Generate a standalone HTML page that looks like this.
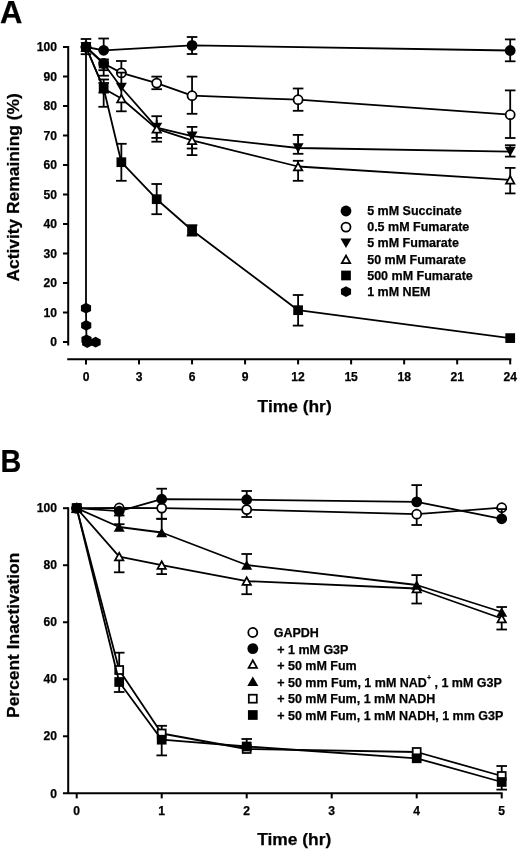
<!DOCTYPE html>
<html><head><meta charset="utf-8"><style>
html,body{margin:0;padding:0;background:#fff;}
svg{display:block;will-change:transform;}
text{font-family:"Liberation Sans", sans-serif;font-weight:bold;fill:#000;stroke:#000;stroke-width:0.25px;}
line,polyline{stroke:#000;stroke-width:2.0px;}
.d{stroke-width:1.8px;}
.f{fill:#000;}
.o{fill:#fff;stroke:#000;stroke-width:1.75px;}
</style></head><body>
<svg width="520" height="852" viewBox="0 0 520 852">
<rect width="520" height="852" fill="#fff"/>
<line x1="68.20" y1="46.00" x2="68.20" y2="345.50"/>
<line x1="63.00" y1="342.00" x2="68.20" y2="342.00"/>
<text x="57.00" y="346.20" font-size="12.1" text-anchor="end">0</text>
<line x1="63.00" y1="312.50" x2="68.20" y2="312.50"/>
<text x="57.00" y="316.70" font-size="12.1" text-anchor="end">10</text>
<line x1="63.00" y1="283.00" x2="68.20" y2="283.00"/>
<text x="57.00" y="287.20" font-size="12.1" text-anchor="end">20</text>
<line x1="63.00" y1="253.50" x2="68.20" y2="253.50"/>
<text x="57.00" y="257.70" font-size="12.1" text-anchor="end">30</text>
<line x1="63.00" y1="224.00" x2="68.20" y2="224.00"/>
<text x="57.00" y="228.20" font-size="12.1" text-anchor="end">40</text>
<line x1="63.00" y1="194.50" x2="68.20" y2="194.50"/>
<text x="57.00" y="198.70" font-size="12.1" text-anchor="end">50</text>
<line x1="63.00" y1="165.00" x2="68.20" y2="165.00"/>
<text x="57.00" y="169.20" font-size="12.1" text-anchor="end">60</text>
<line x1="63.00" y1="135.50" x2="68.20" y2="135.50"/>
<text x="57.00" y="139.70" font-size="12.1" text-anchor="end">70</text>
<line x1="63.00" y1="106.00" x2="68.20" y2="106.00"/>
<text x="57.00" y="110.20" font-size="12.1" text-anchor="end">80</text>
<line x1="63.00" y1="76.50" x2="68.20" y2="76.50"/>
<text x="57.00" y="80.70" font-size="12.1" text-anchor="end">90</text>
<line x1="63.00" y1="47.00" x2="68.20" y2="47.00"/>
<text x="57.00" y="51.20" font-size="12.1" text-anchor="end">100</text>
<line x1="67.20" y1="359.20" x2="511.30" y2="359.20"/>
<line x1="86.00" y1="359.20" x2="86.00" y2="364.40"/>
<text x="86.00" y="381.00" font-size="12.1" text-anchor="middle">0</text>
<line x1="139.03" y1="359.20" x2="139.03" y2="364.40"/>
<text x="139.03" y="381.00" font-size="12.1" text-anchor="middle">3</text>
<line x1="192.05" y1="359.20" x2="192.05" y2="364.40"/>
<text x="192.05" y="381.00" font-size="12.1" text-anchor="middle">6</text>
<line x1="245.08" y1="359.20" x2="245.08" y2="364.40"/>
<text x="245.08" y="381.00" font-size="12.1" text-anchor="middle">9</text>
<line x1="298.10" y1="359.20" x2="298.10" y2="364.40"/>
<text x="298.10" y="381.00" font-size="12.1" text-anchor="middle">12</text>
<line x1="351.12" y1="359.20" x2="351.12" y2="364.40"/>
<text x="351.12" y="381.00" font-size="12.1" text-anchor="middle">15</text>
<line x1="404.15" y1="359.20" x2="404.15" y2="364.40"/>
<text x="404.15" y="381.00" font-size="12.1" text-anchor="middle">18</text>
<line x1="457.18" y1="359.20" x2="457.18" y2="364.40"/>
<text x="457.18" y="381.00" font-size="12.1" text-anchor="middle">21</text>
<line x1="510.20" y1="359.20" x2="510.20" y2="364.40"/>
<text x="510.20" y="381.00" font-size="12.1" text-anchor="middle">24</text>
<text x="257.60" y="411.60" font-size="17.4">Time (hr)</text>
<text transform="translate(18.7,281.6) rotate(-90)" font-size="17.4">Activity Remaining (%)</text>
<text x="0.00" y="23.20" font-size="31">A</text>
<line x1="86.00" y1="39.00" x2="86.00" y2="54.20" class="d"/>
<line x1="80.70" y1="39.00" x2="91.30" y2="39.00" class="d"/>
<line x1="80.70" y1="54.20" x2="91.30" y2="54.20" class="d"/>
<line x1="103.67" y1="38.50" x2="103.67" y2="55.00" class="d"/>
<line x1="98.38" y1="38.50" x2="108.97" y2="38.50" class="d"/>
<line x1="192.05" y1="37.00" x2="192.05" y2="54.00" class="d"/>
<line x1="186.75" y1="37.00" x2="197.35" y2="37.00" class="d"/>
<line x1="186.75" y1="54.00" x2="197.35" y2="54.00" class="d"/>
<line x1="510.20" y1="39.40" x2="510.20" y2="61.30" class="d"/>
<line x1="504.90" y1="39.40" x2="515.50" y2="39.40" class="d"/>
<line x1="504.90" y1="61.30" x2="515.50" y2="61.30" class="d"/>
<polyline points="86.00,47.00 103.67,50.30 192.05,45.40 510.20,50.50" fill="none" stroke-linejoin="round" class="d"/>
<circle cx="86.00" cy="47.00" r="5.40" class="f"/>
<circle cx="103.67" cy="50.30" r="5.40" class="f"/>
<circle cx="192.05" cy="45.40" r="5.40" class="f"/>
<circle cx="510.20" cy="50.50" r="5.40" class="f"/>
<line x1="103.67" y1="60.00" x2="103.67" y2="70.20" class="d"/>
<line x1="98.38" y1="70.20" x2="108.97" y2="70.20" class="d"/>
<line x1="121.35" y1="61.00" x2="121.35" y2="72.90" class="d"/>
<line x1="116.05" y1="61.00" x2="126.65" y2="61.00" class="d"/>
<line x1="156.70" y1="76.60" x2="156.70" y2="89.20" class="d"/>
<line x1="151.40" y1="76.60" x2="162.00" y2="76.60" class="d"/>
<line x1="151.40" y1="89.20" x2="162.00" y2="89.20" class="d"/>
<line x1="192.05" y1="76.60" x2="192.05" y2="113.80" class="d"/>
<line x1="186.75" y1="76.60" x2="197.35" y2="76.60" class="d"/>
<line x1="186.75" y1="113.80" x2="197.35" y2="113.80" class="d"/>
<line x1="298.10" y1="88.50" x2="298.10" y2="110.80" class="d"/>
<line x1="292.80" y1="88.50" x2="303.40" y2="88.50" class="d"/>
<line x1="292.80" y1="110.80" x2="303.40" y2="110.80" class="d"/>
<line x1="510.20" y1="90.40" x2="510.20" y2="138.00" class="d"/>
<line x1="504.90" y1="90.40" x2="515.50" y2="90.40" class="d"/>
<line x1="504.90" y1="138.00" x2="515.50" y2="138.00" class="d"/>
<polyline points="86.00,47.00 103.67,63.50 121.35,72.90 156.70,83.10 192.05,95.70 298.10,99.70 510.20,114.70" fill="none" stroke-linejoin="round" class="d"/>
<circle cx="86.00" cy="47.00" r="4.53" class="o"/>
<circle cx="103.67" cy="63.50" r="4.53" class="o"/>
<circle cx="121.35" cy="72.90" r="4.53" class="o"/>
<circle cx="156.70" cy="83.10" r="4.53" class="o"/>
<circle cx="192.05" cy="95.70" r="4.53" class="o"/>
<circle cx="298.10" cy="99.70" r="4.53" class="o"/>
<circle cx="510.20" cy="114.70" r="4.53" class="o"/>
<line x1="103.67" y1="63.00" x2="103.67" y2="75.70" class="d"/>
<line x1="98.38" y1="75.70" x2="108.97" y2="75.70" class="d"/>
<line x1="121.35" y1="72.60" x2="121.35" y2="87.50" class="d"/>
<line x1="116.05" y1="72.60" x2="126.65" y2="72.60" class="d"/>
<line x1="156.70" y1="116.20" x2="156.70" y2="137.90" class="d"/>
<line x1="151.40" y1="116.20" x2="162.00" y2="116.20" class="d"/>
<line x1="151.40" y1="137.90" x2="162.00" y2="137.90" class="d"/>
<line x1="192.05" y1="126.90" x2="192.05" y2="148.50" class="d"/>
<line x1="186.75" y1="126.90" x2="197.35" y2="126.90" class="d"/>
<line x1="186.75" y1="148.50" x2="197.35" y2="148.50" class="d"/>
<line x1="298.10" y1="134.90" x2="298.10" y2="153.80" class="d"/>
<line x1="292.80" y1="134.90" x2="303.40" y2="134.90" class="d"/>
<line x1="292.80" y1="153.80" x2="303.40" y2="153.80" class="d"/>
<line x1="510.20" y1="145.20" x2="510.20" y2="156.60" class="d"/>
<line x1="504.90" y1="145.20" x2="515.50" y2="145.20" class="d"/>
<line x1="504.90" y1="156.60" x2="515.50" y2="156.60" class="d"/>
<polyline points="86.00,47.00 103.67,63.50 121.35,87.50 156.70,127.60 192.05,136.20 298.10,148.00 510.20,151.60" fill="none" stroke-linejoin="round" class="d"/>
<polygon points="80.49,42.25 91.51,42.25 86.00,51.75" class="f"/>
<polygon points="98.17,58.75 109.18,58.75 103.67,68.25" class="f"/>
<polygon points="115.84,82.75 126.86,82.75 121.35,92.25" class="f"/>
<polygon points="151.19,122.85 162.21,122.85 156.70,132.35" class="f"/>
<polygon points="186.54,131.45 197.56,131.45 192.05,140.95" class="f"/>
<polygon points="292.59,143.25 303.61,143.25 298.10,152.75" class="f"/>
<polygon points="504.69,146.85 515.71,146.85 510.20,156.35" class="f"/>
<line x1="103.67" y1="79.50" x2="103.67" y2="95.00" class="d"/>
<line x1="98.38" y1="79.50" x2="108.97" y2="79.50" class="d"/>
<line x1="121.35" y1="90.00" x2="121.35" y2="111.30" class="d"/>
<line x1="116.05" y1="111.30" x2="126.65" y2="111.30" class="d"/>
<line x1="156.70" y1="120.00" x2="156.70" y2="141.70" class="d"/>
<line x1="151.40" y1="141.70" x2="162.00" y2="141.70" class="d"/>
<line x1="192.05" y1="132.00" x2="192.05" y2="155.10" class="d"/>
<line x1="186.75" y1="155.10" x2="197.35" y2="155.10" class="d"/>
<line x1="298.10" y1="160.80" x2="298.10" y2="180.80" class="d"/>
<line x1="292.80" y1="160.80" x2="303.40" y2="160.80" class="d"/>
<line x1="292.80" y1="180.80" x2="303.40" y2="180.80" class="d"/>
<line x1="510.20" y1="167.90" x2="510.20" y2="193.40" class="d"/>
<line x1="504.90" y1="167.90" x2="515.50" y2="167.90" class="d"/>
<line x1="504.90" y1="193.40" x2="515.50" y2="193.40" class="d"/>
<polyline points="86.00,47.00 103.67,88.50 121.35,98.50 156.70,128.90 192.05,140.30 298.10,166.50 510.20,179.90" fill="none" stroke-linejoin="round" class="d"/>
<polygon points="81.80,50.79 90.20,50.79 86.00,43.21" class="o"/>
<polygon points="99.48,92.29 107.87,92.29 103.67,84.71" class="o"/>
<polygon points="117.15,102.29 125.55,102.29 121.35,94.71" class="o"/>
<polygon points="152.50,132.69 160.90,132.69 156.70,125.11" class="o"/>
<polygon points="187.85,144.09 196.25,144.09 192.05,136.51" class="o"/>
<polygon points="293.90,170.29 302.30,170.29 298.10,162.71" class="o"/>
<polygon points="506.00,183.69 514.40,183.69 510.20,176.11" class="o"/>
<line x1="103.67" y1="83.00" x2="103.67" y2="106.80" class="d"/>
<line x1="98.38" y1="83.00" x2="108.97" y2="83.00" class="d"/>
<line x1="98.38" y1="106.80" x2="108.97" y2="106.80" class="d"/>
<line x1="121.35" y1="143.80" x2="121.35" y2="180.80" class="d"/>
<line x1="116.05" y1="143.80" x2="126.65" y2="143.80" class="d"/>
<line x1="116.05" y1="180.80" x2="126.65" y2="180.80" class="d"/>
<line x1="156.70" y1="184.00" x2="156.70" y2="214.20" class="d"/>
<line x1="151.40" y1="184.00" x2="162.00" y2="184.00" class="d"/>
<line x1="151.40" y1="214.20" x2="162.00" y2="214.20" class="d"/>
<line x1="192.05" y1="225.20" x2="192.05" y2="235.60" class="d"/>
<line x1="186.75" y1="225.20" x2="197.35" y2="225.20" class="d"/>
<line x1="186.75" y1="235.60" x2="197.35" y2="235.60" class="d"/>
<line x1="298.10" y1="295.00" x2="298.10" y2="325.60" class="d"/>
<line x1="292.80" y1="295.00" x2="303.40" y2="295.00" class="d"/>
<line x1="292.80" y1="325.60" x2="303.40" y2="325.60" class="d"/>
<polyline points="86.00,47.00 103.67,88.50 121.35,162.20 156.70,199.20 192.05,230.30 298.10,310.20 510.20,338.10" fill="none" stroke-linejoin="round" class="d"/>
<rect x="81.14" y="42.14" width="9.72" height="9.72" class="f"/>
<rect x="98.81" y="83.64" width="9.72" height="9.72" class="f"/>
<rect x="116.49" y="157.34" width="9.72" height="9.72" class="f"/>
<rect x="151.84" y="194.34" width="9.72" height="9.72" class="f"/>
<rect x="187.19" y="225.44" width="9.72" height="9.72" class="f"/>
<rect x="293.24" y="305.34" width="9.72" height="9.72" class="f"/>
<rect x="505.34" y="333.24" width="9.72" height="9.72" class="f"/>
<rect x="98.81" y="58.64" width="9.72" height="9.72" class="f"/>
<polyline points="86.00,47.00 86.00,308.20 86.20,325.40 86.50,339.80 87.20,342.60 95.60,342.20" fill="none" stroke-linejoin="round" class="d"/>
<polygon points="86.00,302.80 91.08,305.50 91.08,310.90 86.00,313.60 80.92,310.90 80.92,305.50" class="f"/>
<polygon points="86.20,320.00 91.28,322.70 91.28,328.10 86.20,330.80 81.12,328.10 81.12,322.70" class="f"/>
<polygon points="86.50,334.40 91.58,337.10 91.58,342.50 86.50,345.20 81.42,342.50 81.42,337.10" class="f"/>
<polygon points="87.20,337.20 92.28,339.90 92.28,345.30 87.20,348.00 82.12,345.30 82.12,339.90" class="f"/>
<polygon points="95.60,336.80 100.68,339.50 100.68,344.90 95.60,347.60 90.52,344.90 90.52,339.50" class="f"/>
<circle cx="346.00" cy="211.00" r="5.40" class="f"/>
<text x="367.20" y="215.20" font-size="12.5">5 mM Succinate</text>
<circle cx="346.00" cy="227.12" r="4.53" class="o"/>
<text x="367.20" y="231.32" font-size="12.5">0.5 mM Fumarate</text>
<polygon points="340.49,238.49 351.51,238.49 346.00,247.99" class="f"/>
<text x="367.20" y="247.44" font-size="12.5">5 mM Fumarate</text>
<polygon points="341.80,263.15 350.20,263.15 346.00,255.57" class="o"/>
<text x="367.20" y="263.56" font-size="12.5">50 mM Fumarate</text>
<rect x="341.14" y="270.62" width="9.72" height="9.72" class="f"/>
<text x="367.20" y="279.68" font-size="12.5">500 mM Fumarate</text>
<polygon points="346.00,286.20 351.08,288.90 351.08,294.30 346.00,297.00 340.92,294.30 340.92,288.90" class="f"/>
<text x="367.20" y="295.80" font-size="12.5">1 mM NEM</text>
<line x1="68.20" y1="507.30" x2="68.20" y2="793.30"/>
<line x1="63.00" y1="736.28" x2="68.20" y2="736.28"/>
<line x1="63.00" y1="679.26" x2="68.20" y2="679.26"/>
<line x1="63.00" y1="622.24" x2="68.20" y2="622.24"/>
<line x1="63.00" y1="565.22" x2="68.20" y2="565.22"/>
<line x1="63.00" y1="508.20" x2="68.20" y2="508.20"/>
<text x="57.00" y="797.50" font-size="12.1" text-anchor="end">0</text>
<text x="57.00" y="740.48" font-size="12.1" text-anchor="end">20</text>
<text x="57.00" y="683.46" font-size="12.1" text-anchor="end">40</text>
<text x="57.00" y="626.44" font-size="12.1" text-anchor="end">60</text>
<text x="57.00" y="569.42" font-size="12.1" text-anchor="end">80</text>
<text x="57.00" y="512.40" font-size="12.1" text-anchor="end">100</text>
<line x1="63.00" y1="793.30" x2="502.60" y2="793.30"/>
<line x1="76.70" y1="793.30" x2="76.70" y2="798.40"/>
<text x="76.70" y="815.20" font-size="12.1" text-anchor="middle">0</text>
<line x1="161.70" y1="793.30" x2="161.70" y2="798.40"/>
<text x="161.70" y="815.20" font-size="12.1" text-anchor="middle">1</text>
<line x1="246.70" y1="793.30" x2="246.70" y2="798.40"/>
<text x="246.70" y="815.20" font-size="12.1" text-anchor="middle">2</text>
<line x1="331.70" y1="793.30" x2="331.70" y2="798.40"/>
<text x="331.70" y="815.20" font-size="12.1" text-anchor="middle">3</text>
<line x1="416.70" y1="793.30" x2="416.70" y2="798.40"/>
<text x="416.70" y="815.20" font-size="12.1" text-anchor="middle">4</text>
<line x1="501.70" y1="793.30" x2="501.70" y2="798.40"/>
<text x="501.70" y="815.20" font-size="12.1" text-anchor="middle">5</text>
<text x="257.20" y="845.10" font-size="17.4">Time (hr)</text>
<text transform="translate(18.7,717.9) rotate(-90)" font-size="17.4">Percent Inactivation</text>
<text transform="translate(0.6,471.9) scale(0.93,1)" font-size="31">B</text>
<line x1="161.70" y1="508.00" x2="161.70" y2="518.80" class="d"/>
<line x1="156.40" y1="518.80" x2="167.00" y2="518.80" class="d"/>
<line x1="246.70" y1="509.60" x2="246.70" y2="517.00" class="d"/>
<line x1="241.40" y1="517.00" x2="252.00" y2="517.00" class="d"/>
<line x1="416.70" y1="514.20" x2="416.70" y2="525.00" class="d"/>
<line x1="411.40" y1="525.00" x2="422.00" y2="525.00" class="d"/>
<polyline points="76.70,508.20 119.20,508.00 161.70,508.10 246.70,509.60 416.70,514.20 501.70,507.70" fill="none" stroke-linejoin="round" class="d"/>
<circle cx="76.70" cy="508.20" r="4.53" class="o"/>
<circle cx="119.20" cy="508.00" r="4.53" class="o"/>
<circle cx="161.70" cy="508.10" r="4.53" class="o"/>
<circle cx="246.70" cy="509.60" r="4.53" class="o"/>
<circle cx="416.70" cy="514.20" r="4.53" class="o"/>
<circle cx="501.70" cy="507.70" r="4.53" class="o"/>
<line x1="119.20" y1="511.20" x2="119.20" y2="515.50" class="d"/>
<line x1="113.90" y1="515.50" x2="124.50" y2="515.50" class="d"/>
<line x1="161.70" y1="488.70" x2="161.70" y2="499.00" class="d"/>
<line x1="156.40" y1="488.70" x2="167.00" y2="488.70" class="d"/>
<line x1="246.70" y1="491.00" x2="246.70" y2="499.70" class="d"/>
<line x1="241.40" y1="491.00" x2="252.00" y2="491.00" class="d"/>
<line x1="416.70" y1="485.10" x2="416.70" y2="502.00" class="d"/>
<line x1="411.40" y1="485.10" x2="422.00" y2="485.10" class="d"/>
<line x1="501.70" y1="509.10" x2="501.70" y2="518.80" class="d"/>
<line x1="496.40" y1="509.10" x2="507.00" y2="509.10" class="d"/>
<polyline points="76.70,508.20 119.20,511.20 161.70,499.20 246.70,499.70 416.70,501.90 501.70,518.80" fill="none" stroke-linejoin="round" class="d"/>
<circle cx="76.70" cy="508.20" r="5.40" class="f"/>
<circle cx="119.20" cy="511.20" r="5.40" class="f"/>
<circle cx="161.70" cy="499.20" r="5.40" class="f"/>
<circle cx="246.70" cy="499.70" r="5.40" class="f"/>
<circle cx="416.70" cy="501.90" r="5.40" class="f"/>
<circle cx="501.70" cy="518.80" r="5.40" class="f"/>
<line x1="119.20" y1="556.60" x2="119.20" y2="572.30" class="d"/>
<line x1="113.90" y1="572.30" x2="124.50" y2="572.30" class="d"/>
<line x1="161.70" y1="565.10" x2="161.70" y2="574.10" class="d"/>
<line x1="156.40" y1="574.10" x2="167.00" y2="574.10" class="d"/>
<line x1="246.70" y1="581.10" x2="246.70" y2="594.20" class="d"/>
<line x1="241.40" y1="594.20" x2="252.00" y2="594.20" class="d"/>
<line x1="416.70" y1="588.50" x2="416.70" y2="603.50" class="d"/>
<line x1="411.40" y1="603.50" x2="422.00" y2="603.50" class="d"/>
<line x1="501.70" y1="618.50" x2="501.70" y2="629.50" class="d"/>
<line x1="496.40" y1="629.50" x2="507.00" y2="629.50" class="d"/>
<polyline points="76.70,508.20 119.20,556.60 161.70,565.10 246.70,581.10 416.70,588.50 501.70,618.50" fill="none" stroke-linejoin="round" class="d"/>
<polygon points="72.50,511.99 80.90,511.99 76.70,504.41" class="o"/>
<polygon points="115.00,560.39 123.40,560.39 119.20,552.81" class="o"/>
<polygon points="157.50,568.89 165.90,568.89 161.70,561.31" class="o"/>
<polygon points="242.50,584.89 250.90,584.89 246.70,577.31" class="o"/>
<polygon points="412.50,592.29 420.90,592.29 416.70,584.71" class="o"/>
<polygon points="497.50,622.29 505.90,622.29 501.70,614.71" class="o"/>
<line x1="119.20" y1="515.50" x2="119.20" y2="527.00" class="d"/>
<line x1="119.20" y1="524.20" x2="119.20" y2="527.00" class="d"/>
<line x1="113.90" y1="524.20" x2="124.50" y2="524.20" class="d"/>
<line x1="161.70" y1="518.80" x2="161.70" y2="532.50" class="d"/>
<line x1="156.40" y1="518.80" x2="167.00" y2="518.80" class="d"/>
<line x1="246.70" y1="554.00" x2="246.70" y2="565.00" class="d"/>
<line x1="241.40" y1="554.00" x2="252.00" y2="554.00" class="d"/>
<line x1="416.70" y1="575.10" x2="416.70" y2="585.00" class="d"/>
<line x1="411.40" y1="575.10" x2="422.00" y2="575.10" class="d"/>
<line x1="501.70" y1="607.00" x2="501.70" y2="612.00" class="d"/>
<line x1="496.40" y1="607.00" x2="507.00" y2="607.00" class="d"/>
<polyline points="76.70,508.20 119.20,527.00 161.70,532.50 246.70,565.00 416.70,585.00 501.70,612.00" fill="none" stroke-linejoin="round" class="d"/>
<polygon points="71.19,512.95 82.21,512.95 76.70,503.45" class="f"/>
<polygon points="113.69,531.75 124.71,531.75 119.20,522.25" class="f"/>
<polygon points="156.19,537.25 167.21,537.25 161.70,527.75" class="f"/>
<polygon points="241.19,569.75 252.21,569.75 246.70,560.25" class="f"/>
<polygon points="411.19,589.75 422.21,589.75 416.70,580.25" class="f"/>
<polygon points="496.19,616.75 507.21,616.75 501.70,607.25" class="f"/>
<line x1="119.20" y1="652.70" x2="119.20" y2="670.00" class="d"/>
<line x1="113.90" y1="652.70" x2="124.50" y2="652.70" class="d"/>
<line x1="161.70" y1="725.80" x2="161.70" y2="733.50" class="d"/>
<line x1="156.40" y1="725.80" x2="167.00" y2="725.80" class="d"/>
<line x1="501.70" y1="766.00" x2="501.70" y2="776.00" class="d"/>
<line x1="496.40" y1="766.00" x2="507.00" y2="766.00" class="d"/>
<polyline points="76.70,508.20 119.20,670.00 161.70,733.50 246.70,749.00 416.70,752.00 501.70,776.00" fill="none" stroke-linejoin="round" class="d"/>
<rect x="72.72" y="504.21" width="7.97" height="7.97" class="o"/>
<rect x="115.22" y="666.01" width="7.97" height="7.97" class="o"/>
<rect x="157.71" y="729.51" width="7.97" height="7.97" class="o"/>
<rect x="242.71" y="745.01" width="7.97" height="7.97" class="o"/>
<rect x="412.71" y="748.01" width="7.97" height="7.97" class="o"/>
<rect x="497.71" y="772.01" width="7.97" height="7.97" class="o"/>
<line x1="119.20" y1="682.00" x2="119.20" y2="692.00" class="d"/>
<line x1="113.90" y1="692.00" x2="124.50" y2="692.00" class="d"/>
<line x1="161.70" y1="739.70" x2="161.70" y2="755.40" class="d"/>
<line x1="156.40" y1="755.40" x2="167.00" y2="755.40" class="d"/>
<line x1="246.70" y1="739.00" x2="246.70" y2="746.50" class="d"/>
<line x1="241.40" y1="739.00" x2="252.00" y2="739.00" class="d"/>
<line x1="501.70" y1="782.00" x2="501.70" y2="789.60" class="d"/>
<line x1="496.40" y1="789.60" x2="507.00" y2="789.60" class="d"/>
<polyline points="76.70,508.20 119.20,682.00 161.70,739.70 246.70,746.50 416.70,758.30 501.70,782.00" fill="none" stroke-linejoin="round" class="d"/>
<rect x="71.84" y="503.34" width="9.72" height="9.72" class="f"/>
<rect x="114.34" y="677.14" width="9.72" height="9.72" class="f"/>
<rect x="156.84" y="734.84" width="9.72" height="9.72" class="f"/>
<rect x="241.84" y="741.64" width="9.72" height="9.72" class="f"/>
<rect x="411.84" y="753.44" width="9.72" height="9.72" class="f"/>
<rect x="496.84" y="777.14" width="9.72" height="9.72" class="f"/>
<circle cx="252.80" cy="632.50" r="4.53" class="o"/>
<text x="273.70" y="637.00" font-size="12.5">GAPDH</text>
<circle cx="252.80" cy="648.60" r="5.40" class="f"/>
<text x="277.20" y="653.54" font-size="12.5">+ 1 mM G3P</text>
<polygon points="248.60,667.79 257.00,667.79 252.80,660.21" class="o"/>
<text x="277.20" y="670.08" font-size="12.5">+ 50 mM Fum</text>
<polygon points="247.29,685.95 258.31,685.95 252.80,676.45" class="f"/>
<text x="277.20" y="686.62" font-size="12.5">+ 50 mm Fum, 1 mM NAD<tspan font-size="7" dy="-6.3">+</tspan><tspan dy="6.3"> , 1 mM G3P</tspan></text>
<rect x="248.81" y="694.72" width="7.97" height="7.97" class="o"/>
<text x="277.20" y="703.16" font-size="12.5">+ 50 mM Fum, 1 mM NADH</text>
<rect x="247.94" y="710.14" width="9.72" height="9.72" class="f"/>
<text x="277.20" y="719.70" font-size="12.5">+ 50 mM Fum, 1 mM NADH, 1 mm G3P</text>
</svg>
</body></html>
